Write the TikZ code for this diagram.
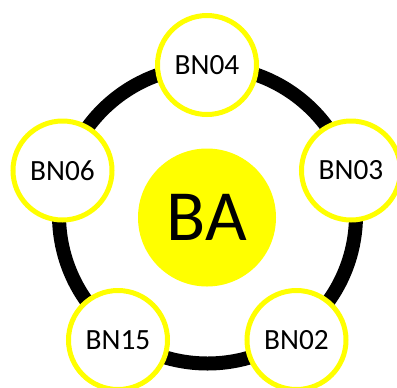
\documentclass[tikz,border=0pt]{standalone}
\usepackage{fontspec}
\setmainfont{Carlito}
\definecolor{ringyellow}{RGB}{255,255,0}
\begin{document}
\begin{tikzpicture}[x=0.75pt,y=-0.75pt,
  member/.style={circle,draw=ringyellow,line width=3.75pt,fill=white,
    minimum size=74.25pt,inner sep=0pt,font=\fontsize{22}{26}\selectfont},
  hub/.style={circle,fill=ringyellow,minimum size=103.5pt,inner sep=0pt,
    font=\fontsize{54}{60}\selectfont},
  ring/.style={draw=black,line width=10.5pt}]
  \clip (0,0) rectangle (397,387);
  \fill[white] (0,0) rectangle (397,387);
  % outer ring joining the members
  \draw[ring] (207.5,215) circle[radius=148.5];
  % centre
  \node[hub] (ba) at (207,217.5) {BA};
  % members round the ring
  \node[member] (bn04) at (207,65) {BN04};
  \node[member] (bn03) at (351,170.5) {BN03};
  \node[member] (bn06) at (62.5,170.5) {BN06};
  \node[member] (bn15) at (118,340) {BN15};
  \node[member] (bn02) at (296.5,340) {BN02};
\end{tikzpicture}
\end{document}
